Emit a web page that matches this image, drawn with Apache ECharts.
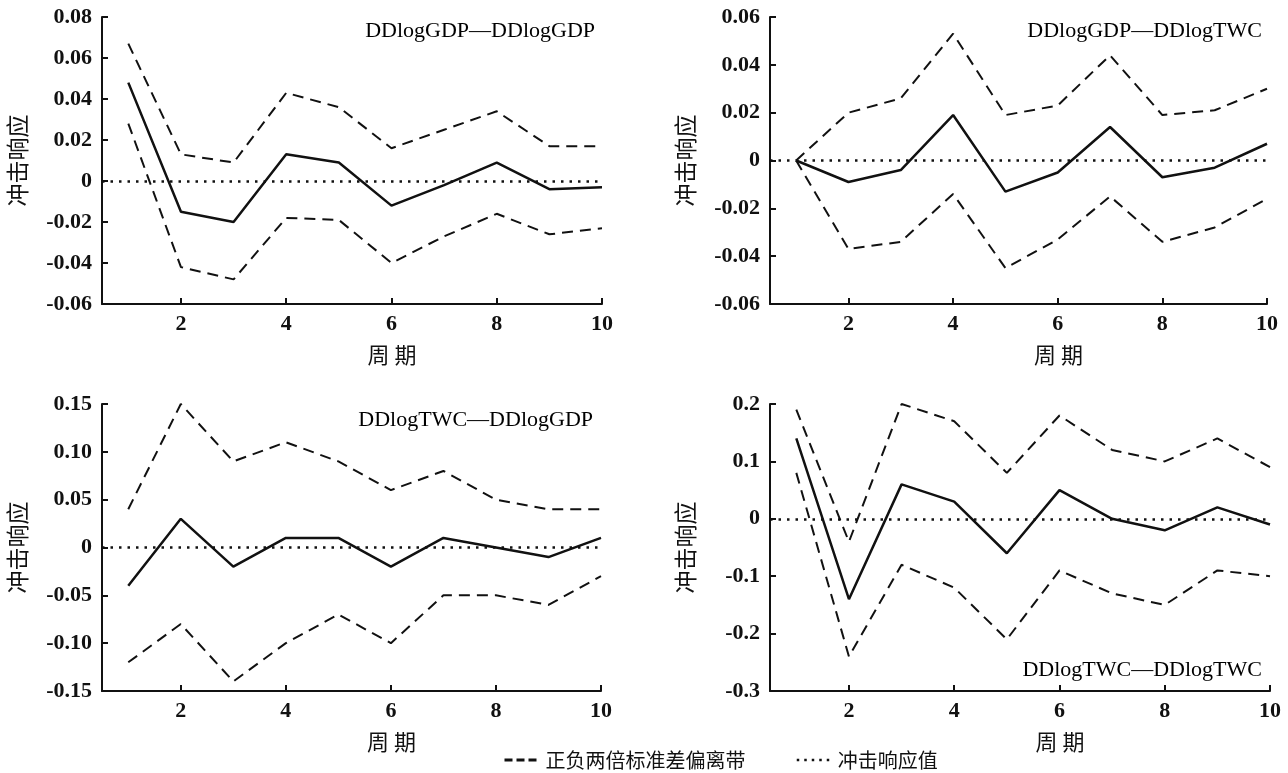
<!DOCTYPE html>
<html>
<head>
<meta charset="utf-8">
<script src="https://cdn.jsdelivr.net/npm/echarts@6/dist/echarts.min.js"></script>
<style>
  html, body { margin: 0; padding: 0; background: #fff; }
  #chart { width: 1288px; height: 773px; }
</style>
</head>
<body>
<div id="chart"></div>
<script>
    // 周期
    var periods = [1, 2, 3, 4, 5, 6, 7, 8, 9, 10]
    var xTicks = [2, 4, 6, 8, 10]

    // DDlogGDP—DDlogGDP
    var gdpGdpMid = [0.048, -0.015, -0.020, 0.013, 0.009, -0.012, -0.002, 0.009, -0.004, -0.003]
    var gdpGdpUp = [0.067, 0.013, 0.009, 0.043, 0.036, 0.016, 0.025, 0.034, 0.017, 0.017]
    var gdpGdpLow = [0.028, -0.042, -0.048, -0.018, -0.019, -0.040, -0.027, -0.016, -0.026, -0.023]

    // DDlogGDP—DDlogTWC
    var gdpTwcMid = [0, -0.009, -0.004, 0.019, -0.013, -0.005, 0.014, -0.007, -0.003, 0.007]
    var gdpTwcUp = [0, 0.020, 0.026, 0.053, 0.019, 0.023, 0.044, 0.019, 0.021, 0.030]
    var gdpTwcLow = [0, -0.037, -0.034, -0.014, -0.045, -0.033, -0.015, -0.034, -0.028, -0.016]

    // DDlogTWC—DDlogGDP
    var twcGdpMid = [-0.04, 0.03, -0.02, 0.01, 0.01, -0.02, 0.01, 0.0, -0.01, 0.01]
    var twcGdpUp = [0.04, 0.15, 0.09, 0.11, 0.09, 0.06, 0.08, 0.05, 0.04, 0.04]
    var twcGdpLow = [-0.12, -0.08, -0.14, -0.10, -0.07, -0.10, -0.05, -0.05, -0.06, -0.03]

    // DDlogTWC—DDlogTWC
    var twcTwcMid = [0.14, -0.14, 0.06, 0.03, -0.06, 0.05, 0.0, -0.02, 0.02, -0.01]
    var twcTwcUp = [0.19, -0.04, 0.20, 0.17, 0.08, 0.18, 0.12, 0.10, 0.14, 0.09]
    var twcTwcLow = [0.08, -0.24, -0.08, -0.12, -0.21, -0.09, -0.13, -0.15, -0.09, -0.10]

    var panels = [
        {title: 'DDlogGDP—DDlogGDP', mid: gdpGdpMid, up: gdpGdpUp, low: gdpGdpLow,
            min: -0.06, max: 0.08, interval: 0.02, digits: 2},
        {title: 'DDlogGDP—DDlogTWC', mid: gdpTwcMid, up: gdpTwcUp, low: gdpTwcLow,
            min: -0.06, max: 0.06, interval: 0.02, digits: 2},
        {title: 'DDlogTWC—DDlogGDP', mid: twcGdpMid, up: twcGdpUp, low: twcGdpLow,
            min: -0.15, max: 0.15, interval: 0.05, digits: 2},
        {title: 'DDlogTWC—DDlogTWC', mid: twcTwcMid, up: twcTwcUp, low: twcTwcLow,
            min: -0.3, max: 0.2, interval: 0.1, digits: 1}
    ]

    var grids = [
        {left: 102, top: 17, width: 500, height: 287},
        {left: 770, top: 17, width: 497, height: 287},
        {left: 102, top: 404, width: 499, height: 287},
        {left: 770, top: 404, width: 500, height: 287}
    ]
    var titlePos = [
        {right: 688, top: 15},
        {right: 21, top: 15},
        {right: 690, top: 404},
        {right: 21, top: 654}
    ]

    var serif = '"Liberation Serif", "DejaVu Serif", serif'
    var cjk = '"Noto Sans CJK SC", sans-serif'
    var ink = '#111'

    function pairs(vals) {
        return periods.map(function (p, i) { return [p, vals[i]] })
    }

    var xAxes = [], yAxes = [], series = [], titles = []
    panels.forEach(function (pn, i) {
        xAxes.push({
            type: 'value', gridIndex: i, min: 0.5, max: 10,
            name: '周 期', nameLocation: 'middle', nameGap: 40,
            nameTextStyle: {fontFamily: cjk, fontSize: 22, color: ink, padding: [0, 0, 0, 80]},
            axisLine: {onZero: false, lineStyle: {color: ink, width: 2}},
            axisTick: {inside: true, length: 6, customValues: xTicks, lineStyle: {color: ink, width: 2}},
            axisLabel: {customValues: xTicks, margin: 9, fontFamily: serif, fontSize: 22,
                fontWeight: 'bold', color: ink},
            splitLine: {show: false}
        })
        yAxes.push({
            type: 'value', gridIndex: i, min: pn.min, max: pn.max, interval: pn.interval,
            name: '冲击响应', nameLocation: 'middle', nameRotate: 90, nameGap: 73,
            nameTextStyle: {fontFamily: cjk, fontSize: 23, color: ink},
            axisLine: {show: true, onZero: false, lineStyle: {color: ink, width: 2}},
            axisTick: {show: true, inside: true, length: 6, lineStyle: {color: ink, width: 2}},
            axisLabel: {
                margin: 10, fontFamily: serif, fontSize: 22, fontWeight: 'bold', color: ink,
                formatter: function (v) {
                    return Math.abs(v) < 1e-9 ? '0' : v.toFixed(pn.digits)
                }
            },
            splitLine: {show: false}
        })
        titles.push({
            text: pn.title, right: titlePos[i].right, top: titlePos[i].top,
            textStyle: {fontFamily: serif, fontSize: 22, fontWeight: 'normal', color: '#000'}
        })
        series.push({
            name: '正负两倍标准差偏离带', type: 'line', xAxisIndex: i, yAxisIndex: i,
            data: pairs(pn.up), symbol: 'none', silent: true,
            itemStyle: {color: ink},
            lineStyle: {color: ink, width: 2, type: [11, 7]}
        })
        series.push({
            name: '正负两倍标准差偏离带', type: 'line', xAxisIndex: i, yAxisIndex: i,
            data: pairs(pn.low), symbol: 'none', silent: true,
            itemStyle: {color: ink},
            lineStyle: {color: ink, width: 2, type: [11, 7]}
        })
        series.push({
            name: '冲击响应', type: 'line', xAxisIndex: i, yAxisIndex: i,
            data: pairs(pn.mid), symbol: 'none', silent: true,
            itemStyle: {color: ink},
            lineStyle: {color: ink, width: 2.5}
        })
        series.push({
            name: '冲击响应值', type: 'line', xAxisIndex: i, yAxisIndex: i,
            data: [], symbol: 'none', silent: true,
            itemStyle: {color: ink},
            lineStyle: {color: ink, width: 2.5, type: [2.5, 6]},
            markLine: {
                silent: true, symbol: ['none', 'none'], label: {show: false},
                lineStyle: {color: ink, width: 2.5, type: [2.5, 6]},
                data: [{yAxis: 0}]
            }
        })
    })

    var chart = echarts.init(document.getElementById('chart'))
    chart.setOption({
        backgroundColor: '#fff',
        animation: false,
        title: titles,
        legend: {
            data: [
                {name: '正负两倍标准差偏离带', lineStyle: {type: [8, 4], width: 3}},
                {name: '冲击响应值', lineStyle: {type: [2.5, 5], width: 2.5}}
            ],
            left: 498, top: 745,
            itemWidth: 36, itemHeight: 14, itemGap: 50,
            itemStyle: {opacity: 0},
            textStyle: {fontFamily: cjk, fontSize: 20, color: ink}
        },
        grid: grids,
        xAxis: xAxes,
        yAxis: yAxes,
        series: series
    })
</script>
</body>
</html>
